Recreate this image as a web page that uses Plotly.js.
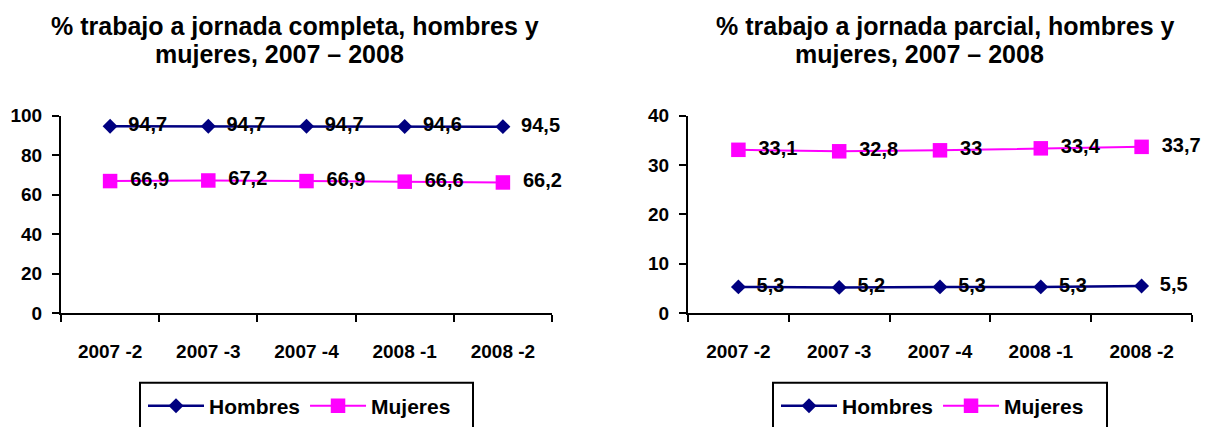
<!DOCTYPE html>
<html>
<head>
<meta charset="utf-8">
<script src="https://cdn.plot.ly/plotly-3.0.1.min.js"></script>
<style>
  html, body { margin: 0; padding: 0; background: #ffffff; }
  #chart { width: 1207px; height: 427px; }
</style>
</head>
<body>
<div id="chart"></div>
<script>
// ---- data ----
const categories = ['2007 -2', '2007 -3', '2007 -4', '2008 -1', '2008 -2'];
const completaHombres = [94.7, 94.7, 94.7, 94.6, 94.5];
const completaMujeres = [66.9, 67.2, 66.9, 66.6, 66.2];
const parcialHombres = [5.3, 5.2, 5.3, 5.3, 5.5];
const parcialMujeres = [33.1, 32.8, 33.0, 33.4, 33.7];
const seriesNames = ['Hombres', 'Mujeres'];
const titleLeft = ['% trabajo a jornada completa, hombres y', 'mujeres, 2007 – 2008'];
const titleRight = ['% trabajo a jornada parcial, hombres y', 'mujeres, 2007 – 2008'];
const yTicksLeft = [0, 20, 40, 60, 80, 100];
const yTicksRight = [0, 10, 20, 30, 40];

// ---- style ----
const W = 1207, H = 427;
const FONT = '"Liberation Sans", Arial, Helvetica, sans-serif';
const NAVY = '#000080';
const MAGENTA = '#FF00FF';
const fmt = v => '\u2002' + String(v).replace('.', ',');
const px = x => x / W;
const py = y => (H - y) / H;

function series(y, name, color, symbol, size, xa, ya, legend, lw) {
  return {
    type: 'scatter',
    mode: 'lines+markers+text',
    x: categories,
    y: y,
    name: name,
    xaxis: xa,
    yaxis: ya,
    legend: legend,
    text: y.map(fmt),
    textposition: 'middle right',
    textfont: { family: FONT, size: 20, color: '#000000', weight: 'bold' },
    line: { color: color, width: lw },
    marker: { color: color, symbol: symbol, size: size, line: { width: 0 } },
    cliponaxis: false,
    hoverinfo: 'skip'
  };
}

const data = [
  series(completaHombres, seriesNames[0], NAVY, 'diamond', 11.5, 'x', 'y', 'legend', 2.5),
  series(completaMujeres, seriesNames[1], MAGENTA, 'square', 14.5, 'x', 'y', 'legend', 2),
  series(parcialHombres, seriesNames[0], NAVY, 'diamond', 11.5, 'x2', 'y2', 'legend2', 2.5),
  series(parcialMujeres, seriesNames[1], MAGENTA, 'square', 14.5, 'x2', 'y2', 'legend2', 2)
];

const tickFont = { family: FONT, size: 19, color: '#000000', weight: 'bold' };

function xAxis(domain, anchor) {
  return {
    domain: domain,
    anchor: anchor,
    type: 'category',
    categoryorder: 'array',
    categoryarray: categories,
    range: [-0.5, categories.length - 0.5],
    tickson: 'boundaries',
    ticks: 'outside',
    ticklen: 7,
    tickwidth: 2,
    tickcolor: '#000000',
    showline: true,
    linecolor: '#000000',
    linewidth: 2,
    showgrid: false,
    zeroline: false,
    tickfont: tickFont,
    ticklabelstandoff: 20,
    fixedrange: true
  };
}
function yAxis(domain, anchor, range, ticks) {
  return {
    domain: domain,
    anchor: anchor,
    range: range,
    tickmode: 'array',
    tickvals: ticks,
    ticktext: ticks.map(String),
    ticks: 'outside',
    ticklen: 7,
    tickwidth: 2,
    tickcolor: '#000000',
    showline: true,
    linecolor: '#000000',
    linewidth: 2,
    showgrid: false,
    zeroline: false,
    tickfont: tickFont,
    ticklabelstandoff: 6,
    fixedrange: true
  };
}

const yDom = [py(319), py(118)];
const legendCommon = {
  orientation: 'h',
  xanchor: 'left',
  yanchor: 'top',
  bgcolor: 'rgba(0,0,0,0)',
  borderwidth: 0,
  font: { family: FONT, size: 21, color: '#000000', weight: 'bold' },
  itemwidth: 56,
  itemclick: false,
  itemdoubleclick: false
};

function titleAnn(text, x, y) {
  return {
    xref: 'paper', yref: 'paper',
    x: px(x), y: py(y),
    xanchor: 'center', yanchor: 'middle',
    text: text,
    showarrow: false,
    font: { family: FONT, size: 25, color: '#000000', weight: 'bold' }
  };
}

const layout = {
  width: W,
  height: H,
  margin: { l: 0, r: 0, t: 0, b: 0 },
  paper_bgcolor: '#ffffff',
  plot_bgcolor: '#ffffff',
  showlegend: true,
  xaxis: xAxis([px(61), px(552)], 'y'),
  yaxis: yAxis(yDom, 'x', [0, 100], yTicksLeft),
  xaxis2: xAxis([px(688), px(1192)], 'y2'),
  yaxis2: yAxis(yDom, 'x2', [0, 40], yTicksRight),
  legend: Object.assign({}, legendCommon, { x: px(143), y: py(393) }),
  legend2: Object.assign({}, legendCommon, { x: px(776), y: py(393) }),
  annotations: [
    titleAnn(titleLeft[0], 295, 26),
    titleAnn(titleLeft[1], 279, 55),
    titleAnn(titleRight[0], 945, 26),
    titleAnn(titleRight[1], 919, 55)
  ],
  shapes: [
    { type: 'rect', xref: 'paper', yref: 'paper', x0: px(140), x1: px(473), y0: py(390), y1: py(445),
      line: { color: '#000000', width: 2 }, fillcolor: 'rgba(0,0,0,0)' },
    { type: 'rect', xref: 'paper', yref: 'paper', x0: px(773), x1: px(1107), y0: py(390), y1: py(445),
      line: { color: '#000000', width: 2 }, fillcolor: 'rgba(0,0,0,0)' }
  ]
};

Plotly.newPlot('chart', data, layout, { displayModeBar: false, staticPlot: true });
</script>
</body>
</html>
